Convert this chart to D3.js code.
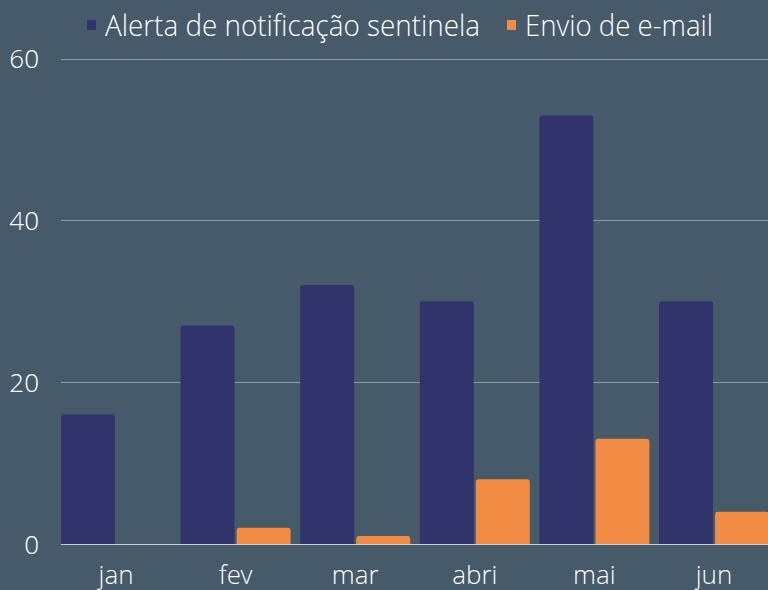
<!DOCTYPE html>
<html><head><meta charset="utf-8">
<script src="https://cdn.jsdelivr.net/npm/d3@7"></script>
<style>
html,body{margin:0;padding:0;background:#465a69;}
svg{display:block;}
text{font-family:"Open Sans Light","Open Sans",sans-serif;font-weight:300;fill:#ffffff;}
</style></head>
<body>
<svg id="c" width="768" height="590"></svg>
<script>
const months = ["jan","fev","mar","abri","mai","jun"];
const seriesNames = ["Alerta de notificação sentinela","Envio de e-mail"];
const alertaValues = [16,27,32,30,53,30];
const emailValues = [0,2,1,8,13,4];
const yTicks = [0,20,40,60];
const colors = ["#31346c","#f28c44"];

const svg = d3.select("#c");
svg.append("rect").attr("width",768).attr("height",590).attr("fill","#465a69");

const left = 61, right = 768;
const y = d3.scaleLinear().domain([0,60]).range([544,58.5]);
const x0 = d3.scaleBand().domain(months).range([left, left + 6*119.6]).paddingInner(0).paddingOuter(0);
const x1 = d3.scaleBand().domain(seriesNames).range([0,110]).paddingInner(2/55).paddingOuter(0);

// gridlines
svg.append("g").selectAll("line").data(yTicks.filter(d=>d>0)).join("line")
  .attr("x1",left).attr("x2",right)
  .attr("y1",d=>Math.round(y(d))+0.5).attr("y2",d=>Math.round(y(d))+0.5)
  .attr("stroke","#8c9ca7").attr("stroke-width",1);

// y axis labels
const yAxis = d3.axisLeft(y).tickValues(yTicks).tickSize(0).tickPadding(0);
const gy = svg.append("g").attr("transform","translate(39,0)").call(yAxis);
gy.select(".domain").remove();
gy.selectAll("text").attr("font-size",26).attr("font-family",null).attr("fill","#fff").attr("dy","0.36em");

function barPath(x,yTop,w,h,r){
  r = Math.min(r,h,w/2);
  if(h<=0) return "";
  return `M${x},${yTop+h}V${yTop+r}Q${x},${yTop} ${x+r},${yTop}H${x+w-r}Q${x+w},${yTop} ${x+w},${yTop+r}V${yTop+h}Z`;
}

const data = months.map((m,i)=>({m, vals:[alertaValues[i], emailValues[i]]}));
const g = svg.append("g");
g.selectAll("g").data(data).join("g")
  .attr("transform",d=>`translate(${x0(d.m)},0)`)
  .selectAll("path").data(d=>d.vals.map((v,j)=>({v,j,name:seriesNames[j]}))).join("path")
  .attr("d",d=>barPath(x1(d.name), y(d.v), x1.bandwidth(), y(0)-y(d.v), 3))
  .attr("fill",d=>colors[d.j]);

// baseline
svg.append("line").attr("x1",left).attr("x2",right).attr("y1",544.5).attr("y2",544.5)
  .attr("stroke","#c8cdd1").attr("stroke-width",1);

// x labels
const xAxis = d3.axisBottom(x0).tickSize(0).tickPadding(0);
const gx = svg.append("g").call(xAxis);
gx.select(".domain").remove();
gx.selectAll(".tick").attr("transform",d=>`translate(${x0(d)+55},0)`);
gx.selectAll("text").attr("font-size",26).attr("font-family",null).attr("fill","#fff").attr("y",584).attr("dy",0);

// legend
const legend = svg.append("g");
const legItems = [
  {name:seriesNames[0],x:87,color:colors[0],len:375},
  {name:seriesNames[1],x:507,color:colors[1],len:188}
];
legItems.forEach(it=>{
  legend.append("rect").attr("x",it.x).attr("y",20).attr("width",9).attr("height",10).attr("fill",it.color);
  legend.append("text").attr("x",it.x+18).attr("y",36).attr("font-size",29)
    .attr("textLength",it.len).attr("lengthAdjust","spacingAndGlyphs").text(it.name);
});
</script>
</body></html>
